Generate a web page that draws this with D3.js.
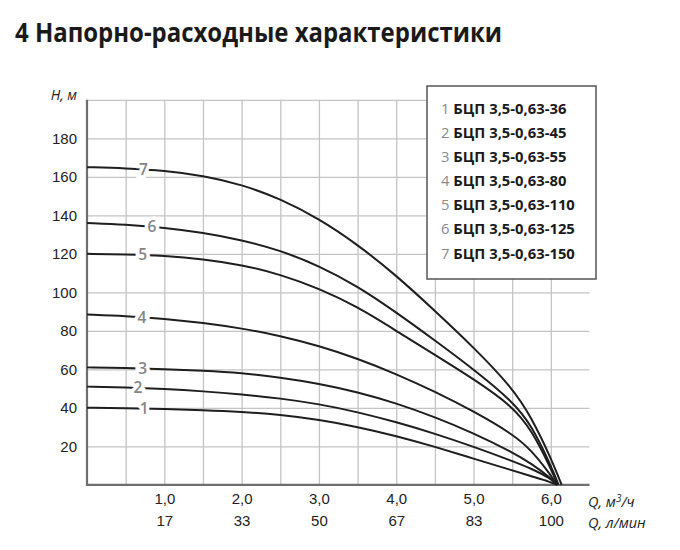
<!DOCTYPE html>
<html>
<head>
<meta charset="utf-8">
<script src="https://cdn.jsdelivr.net/npm/d3@7"></script>
<style>
    body { margin: 0; background: #fff; }
    svg { display: block; font-family: "Open Sans", "Noto Sans", sans-serif; }
    .grid line { stroke: #c4c4c4; stroke-width: 1.3; }
    .grid path { display: none; }
    .ticks path, .ticks line { display: none; }
    .ticks text { font-size: 15px; fill: #222; }
</style>
</head>
<body>
<svg id="chart" width="680" height="550"></svg>
<script>
/* =====
   DATA
==== */

const qPoints = [0, 0.5, 1, 1.5, 2, 2.5, 3, 3.5, 4, 4.5, 5, 5.5, 5.75, 6];

const head36  = [40, 39.8, 39.4, 38.8, 37.9, 36.4, 33.8, 30.1, 25.4, 19.8, 13.6, 7.5, 4.4, 1.4];
const head45  = [51, 50.6, 49.8, 48.6, 47, 44.9, 42, 37.8, 32.6, 26.6, 19.8, 12.4, 8.4, 3.2];
const head55  = [61, 60.7, 60.1, 59.3, 58.1, 55.8, 52.6, 48.2, 42.4, 35.2, 26.8, 17, 11, 3.5];
const head80  = [88.5, 87.7, 86.3, 84.2, 81.3, 77.4, 72.2, 65.6, 57.6, 48.4, 38.2, 26.5, 18, 5];
const head110 = [120, 119.7, 119, 117.3, 114.3, 109.3, 102, 92.5, 80, 67.5, 55, 41, 28.5, 8.5];
const head125 = [136, 135.2, 133.6, 131, 127.2, 121.8, 113.8, 103.2, 89.6, 75, 60, 43.5, 31, 10];
const head150 = [165, 164.4, 163.2, 160.6, 156, 148.6, 138.2, 124.8, 108.8, 90.4, 71.5, 50.5, 35, 14];

// flow where each curve reaches zero head
const qZero = [6.08, 6.08, 6.08, 6.08, 6.09, 6.1, 6.14];

const curveNames = ["1", "2", "3", "4", "5", "6", "7"];
const models = [
    "БЦП 3,5-0,63-36",
    "БЦП 3,5-0,63-45",
    "БЦП 3,5-0,63-55",
    "БЦП 3,5-0,63-80",
    "БЦП 3,5-0,63-110",
    "БЦП 3,5-0,63-125",
    "БЦП 3,5-0,63-150"
];

// where the curve numbers sit along Q
const labelQ = [0.74, 0.66, 0.72, 0.71, 0.72, 0.84, 0.73];

const yTicks = [20, 40, 60, 80, 100, 120, 140, 160, 180];
const xTicks = [1, 2, 3, 4, 5, 6];
const xTicksLpm = ["17", "33", "50", "67", "83", "100"];


/* =====
   SVG SETUP
==== */

const svg = d3.select("#chart");

const x = d3.scaleLinear().domain([0, 6.5]).range([87, 589.5]);
const y = d3.scaleLinear().domain([0, 200]).range([484.8, 99.8]);

// Title
svg.append("text")
    .attr("x", 15)
    .attr("y", 42)
    .attr("textLength", 487)
    .attr("lengthAdjust", "spacingAndGlyphs")
    .style("font-weight", "700")
    .style("font-size", "26px")
    .attr("fill", "#1a1a1a")
    .text("4 Напорно-расходные характеристики");


/* =====
   GRID
==== */

const gridQ = d3.range(0.5, 6.5, 0.5);
const gridH = d3.range(20, 201, 20);

svg.append("g")
    .attr("class", "grid")
    .attr("transform", `translate(0, ${y(0)})`)
    .call(d3.axisBottom(x).tickValues(gridQ).tickSize(-(y(0) - y(200))).tickFormat(""));

svg.append("g")
    .attr("class", "grid")
    .attr("transform", `translate(${x(0)}, 0)`)
    .call(d3.axisLeft(y).tickValues(gridH).tickSize(-(x(6.5) - x(0))).tickFormat(""));

// Axis lines
svg.append("line")
    .attr("x1", x(0)).attr("x2", x(0))
    .attr("y1", y(200)).attr("y2", y(0))
    .attr("stroke", "#6e6e6e").attr("stroke-width", 2.2);

svg.append("line")
    .attr("x1", x(0) - 1).attr("x2", x(6.5))
    .attr("y1", y(0)).attr("y2", y(0))
    .attr("stroke", "#6e6e6e").attr("stroke-width", 2.2);


/* =====
   TICK LABELS
==== */

svg.append("g")
    .attr("class", "ticks")
    .attr("transform", `translate(${x(0) - 10}, 0)`)
    .call(d3.axisLeft(y).tickValues(yTicks).tickSize(0).tickPadding(0));

const comma = d3.format(".1f");

svg.append("g")
    .attr("class", "ticks")
    .attr("transform", `translate(0, ${y(0) + 5})`)
    .call(d3.axisBottom(x).tickValues(xTicks).tickSize(0).tickPadding(4)
        .tickFormat(d => comma(d).replace(".", ",")));

svg.append("g")
    .attr("class", "ticks")
    .attr("transform", `translate(0, ${y(0) + 27})`)
    .call(d3.axisBottom(x).tickValues(xTicks).tickSize(0).tickPadding(4)
        .tickFormat((d, i) => xTicksLpm[i]));

// Axis titles
svg.append("text")
    .attr("x", 77).attr("y", 100)
    .attr("text-anchor", "end")
    .style("font-size", "14px").style("font-style", "italic")
    .attr("fill", "#222")
    .text("H, м");

const qUnit = svg.append("text")
    .attr("x", 588).attr("y", 507)
    .style("font-size", "14.5px").style("font-style", "italic")
    .attr("fill", "#222");
qUnit.append("tspan").text("Q, м");
qUnit.append("tspan").attr("dy", -5).style("font-size", "10px").text("3");
qUnit.append("tspan").attr("dy", 5).text("/ч");

svg.append("text")
    .attr("x", 588).attr("y", 528)
    .style("font-size", "14.5px").style("font-style", "italic")
    .attr("fill", "#222")
    .text("Q, л/мин");


/* =====
   CURVES
==== */

const heads = [head36, head45, head55, head80, head110, head125, head150];

const line = d3.line()
    .x(d => x(d[0]))
    .y(d => y(d[1]))
    .curve(d3.curveBasis);

heads.forEach((h, i) => {
    const pts = qPoints.map((q, k) => [q, h[k]]);
    pts.push([qZero[i], 0]);

    svg.append("path")
        .attr("d", line(pts))
        .attr("fill", "none")
        .attr("stroke", "#1e1e1e")
        .attr("stroke-width", 2);
});

// Curve numbers, with a white gap in the line
heads.forEach((h, i) => {
    const hAt = d3.scaleLinear().domain(qPoints).range(h);
    svg.append("text")
        .attr("x", x(labelQ[i]))
        .attr("y", y(hAt(labelQ[i])) + 5.5)
        .attr("text-anchor", "middle")
        .style("font-size", "15.5px")
        .style("font-weight", "600")
        .attr("fill", "#858585")
        .attr("stroke", "#fff")
        .attr("stroke-width", 7)
        .attr("paint-order", "stroke")
        .text(curveNames[i]);
});


/* =====
   LEGEND
==== */

const legend = svg.append("g");

legend.append("rect")
    .attr("x", 427).attr("y", 86)
    .attr("width", 169).attr("height", 193)
    .attr("fill", "#fff")
    .attr("stroke", "#555")
    .attr("stroke-width", 1.5);

const rowY = d3.scaleLinear().domain([0, 6]).range([113.5, 258.5]);

models.forEach((m, i) => {
    const t = legend.append("text")
        .attr("x", 441)
        .attr("y", rowY(i))
        .style("font-size", "14.8px");
    t.append("tspan").attr("fill", "#8a8a8a").text(curveNames[i] + " ");
    t.append("tspan").attr("fill", "#1a1a1a").style("font-weight", "700").text(m);
});
</script>
</body>
</html>
